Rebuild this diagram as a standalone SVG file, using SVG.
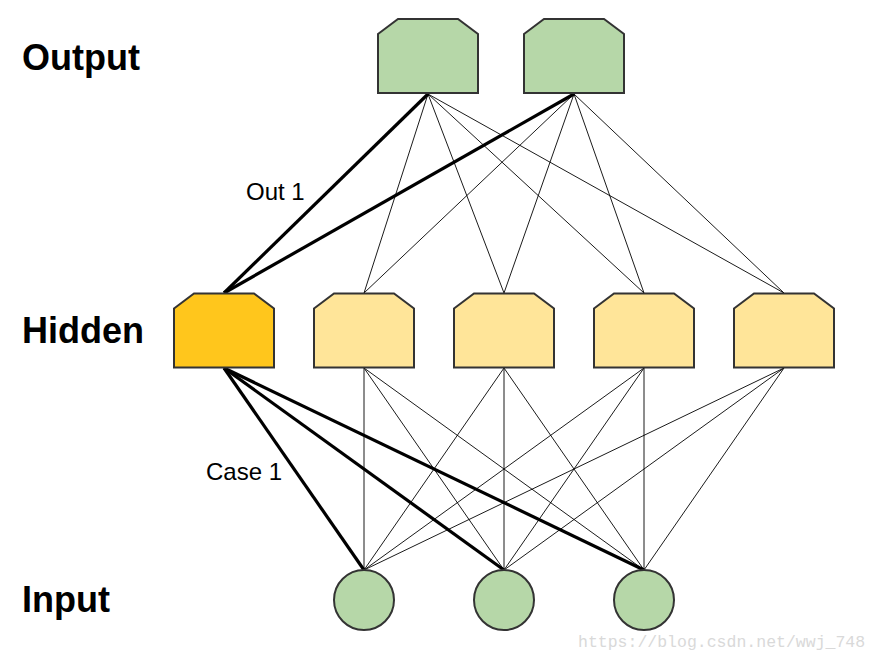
<svg xmlns="http://www.w3.org/2000/svg" width="878" height="661" viewBox="0 0 878 661">
<defs>
<style>
.node{stroke:#333333;stroke-width:2;}
.green{fill:#b6d7a8;}
.hid{fill:#ffe599;}
.act{fill:#ffc61c;}
.thin{stroke:#000;stroke-width:0.9;fill:none;}
.thick{stroke:#000;stroke-width:3.2;fill:none;}
.title{font-family:"Liberation Sans",Arial,sans-serif;font-weight:bold;font-size:36px;fill:#000;}
.lbl{font-family:"Liberation Sans",Arial,sans-serif;font-size:24px;fill:#000;}
.wm{font-family:"Liberation Mono","DejaVu Sans Mono",monospace;font-size:16.5px;fill:#d9d9d9;}
</style>
<path id="hex" d="M-50,-22 L-30,-37 L30,-37 L50,-22 L50,37 L-50,37 Z"/>
</defs>
<rect width="878" height="661" fill="#ffffff"/>
<g id="connectors">
<line class="thin" x1="428" y1="94" x2="364" y2="293"/>
<line class="thin" x1="428" y1="94" x2="504" y2="293"/>
<line class="thin" x1="428" y1="94" x2="644" y2="293"/>
<line class="thin" x1="428" y1="94" x2="784" y2="293"/>
<line class="thin" x1="574" y1="94" x2="364" y2="293"/>
<line class="thin" x1="574" y1="94" x2="504" y2="293"/>
<line class="thin" x1="574" y1="94" x2="644" y2="293"/>
<line class="thin" x1="574" y1="94" x2="784" y2="293"/>
<line class="thick" x1="428" y1="94" x2="224" y2="293"/>
<line class="thick" x1="574" y1="94" x2="224" y2="293"/>
<line class="thin" x1="364" y1="368" x2="364" y2="570"/>
<line class="thin" x1="364" y1="368" x2="504" y2="570"/>
<line class="thin" x1="364" y1="368" x2="644" y2="570"/>
<line class="thin" x1="504" y1="368" x2="364" y2="570"/>
<line class="thin" x1="504" y1="368" x2="504" y2="570"/>
<line class="thin" x1="504" y1="368" x2="644" y2="570"/>
<line class="thin" x1="644" y1="368" x2="364" y2="570"/>
<line class="thin" x1="644" y1="368" x2="504" y2="570"/>
<line class="thin" x1="644" y1="368" x2="644" y2="570"/>
<line class="thin" x1="784" y1="368" x2="364" y2="570"/>
<line class="thin" x1="784" y1="368" x2="504" y2="570"/>
<line class="thin" x1="784" y1="368" x2="644" y2="570"/>
<line class="thick" x1="224" y1="368" x2="364" y2="570"/>
<line class="thick" x1="224" y1="368" x2="504" y2="570"/>
<line class="thick" x1="224" y1="368" x2="644" y2="570"/>
</g>
<g id="out1"><use href="#hex" class="node green" transform="translate(428,56)"/></g>
<g id="out2"><use href="#hex" class="node green" transform="translate(574,56)"/></g>
<g id="hid1"><use href="#hex" class="node act" transform="translate(224,330.5)"/></g>
<g id="hid2"><use href="#hex" class="node hid" transform="translate(364,330.5)"/></g>
<g id="hid3"><use href="#hex" class="node hid" transform="translate(504,330.5)"/></g>
<g id="hid4"><use href="#hex" class="node hid" transform="translate(644,330.5)"/></g>
<g id="hid5"><use href="#hex" class="node hid" transform="translate(784,330.5)"/></g>
<g id="in1"><circle class="node green" cx="364" cy="600" r="30"/></g>
<g id="in2"><circle class="node green" cx="504" cy="600" r="30"/></g>
<g id="in3"><circle class="node green" cx="644" cy="600" r="30"/></g>
<g id="labels">
<text class="title" x="22" y="70">Output</text>
<text class="title" x="22" y="343">Hidden</text>
<text class="title" x="22" y="612">Input</text>
<text class="lbl" x="246" y="200">Out 1</text>
<text class="lbl" x="206" y="480">Case 1</text>
<text class="wm" x="578" y="647">https://blog.csdn.net/wwj_748</text>
</g>
</svg>
